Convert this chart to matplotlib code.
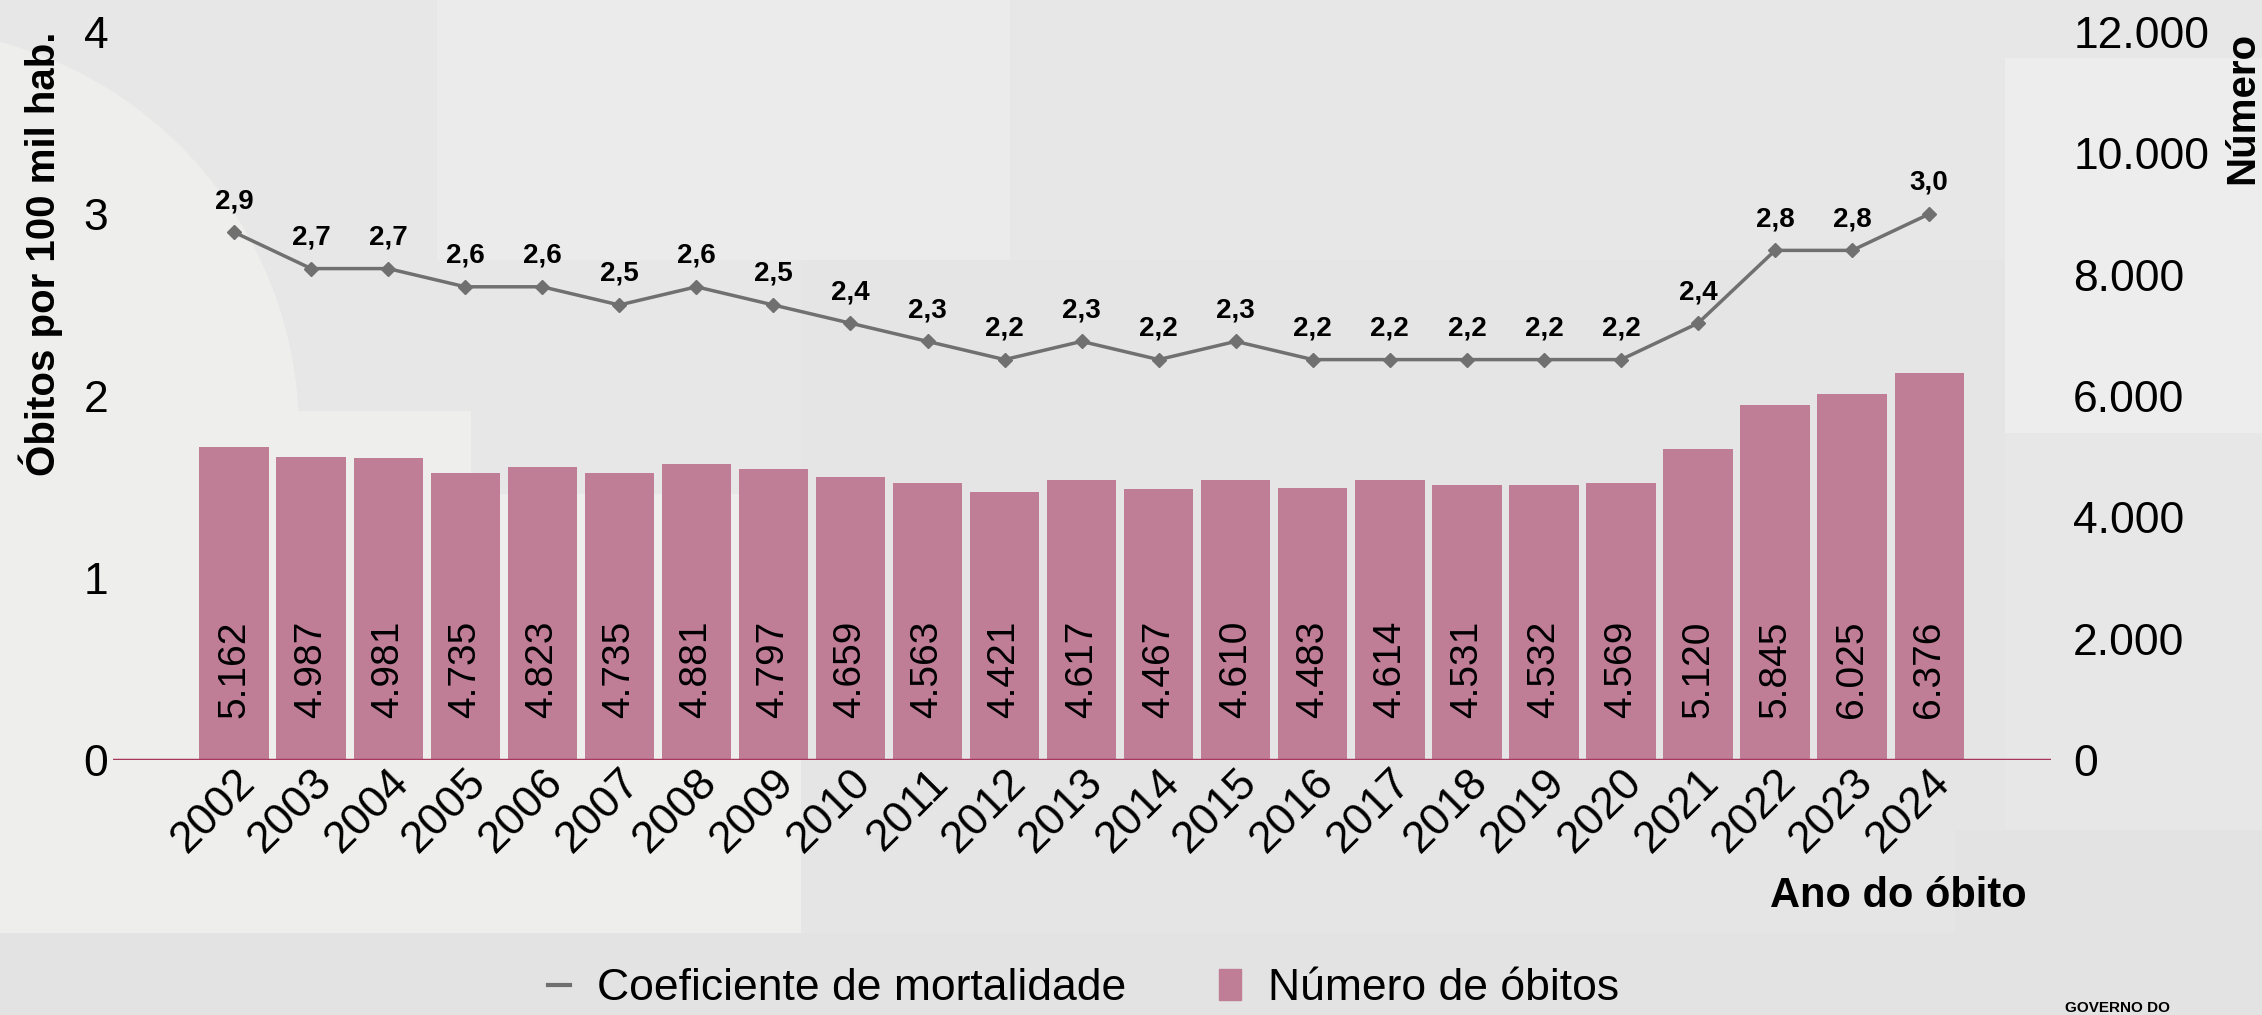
import matplotlib.pyplot as plt
import matplotlib.patches as mpatches
from matplotlib.lines import Line2D
from matplotlib.ticker import FuncFormatter
import numpy as np

plt.rcParams["font.family"] = ["Liberation Sans", "DejaVu Sans"]

# Data
anos = [str(a) for a in range(2002, 2025)]
obitos = [5162, 4987, 4981, 4735, 4823, 4735, 4881, 4797, 4659, 4563, 4421, 4617,
          4467, 4610, 4483, 4614, 4531, 4532, 4569, 5120, 5845, 6025, 6376]
coeficiente = [2.9, 2.7, 2.7, 2.6, 2.6, 2.5, 2.6, 2.5, 2.4, 2.3, 2.2, 2.3,
               2.2, 2.3, 2.2, 2.2, 2.2, 2.2, 2.2, 2.4, 2.8, 2.8, 3.0]
left_ticks = [0, 1, 2, 3, 4]
right_ticks = [0, 2000, 4000, 6000, 8000, 10000, 12000]

bar_color = "#C07D96"
line_color = "#707070"
base_color = "#A8375E"
bg = "#E7E7E7"


def milhar(v, pos=None):
    return f"{int(v):,}".replace(",", ".")


fig = plt.figure(figsize=(22.62, 10.15), dpi=100, facecolor=bg)

# decorative background (pixel coordinates of the page)
bg_ax = fig.add_axes([0, 0, 1, 1], zorder=-10)
bg_ax.set_xlim(0, 2262)
bg_ax.set_ylim(1015, 0)
bg_ax.axis("off")
t = np.linspace(np.arctan2(42 - 432, 105), np.arctan2(411 - 432, 406), 60)
arc = np.column_stack([-105 + 404 * np.cos(t), 432 + 404 * np.sin(t)])
light_left = np.vstack([[[0, 0]], arc, [[471, 411], [471, 494], [801, 494],
                                        [801, 933], [0, 933]]])
bg_ax.add_patch(mpatches.Rectangle((0, 933), 2262, 82, facecolor="#E3E3E3", edgecolor="none"))
bg_ax.add_patch(mpatches.Rectangle((801, 260), 1204, 673, facecolor="#E5E5E5", edgecolor="none"))
bg_ax.add_patch(mpatches.Polygon(light_left, facecolor="#EEEEED", edgecolor="none"))
bg_ax.add_patch(mpatches.Rectangle((437, 0), 573, 260, facecolor="#EBEBEB", edgecolor="none"))
bg_ax.add_patch(mpatches.Rectangle((2005, 58), 257, 375, facecolor="#EDEDED", edgecolor="none"))
bg_ax.add_patch(mpatches.Rectangle((1955, 830), 307, 185, facecolor="#E3E3E3", edgecolor="none"))

ax = fig.add_axes([0.05, 0.2512, 0.8567, 0.7173])
ax2 = ax.twinx()
ax.set_zorder(ax2.get_zorder() + 1)
ax.patch.set_visible(False)
ax2.patch.set_visible(False)

x = np.arange(len(anos))

# bars on the right axis
ax2.bar(x, obitos, width=0.9, color=bar_color, zorder=2)
for xi, v in zip(x, obitos):
    ax2.annotate(milhar(v), xy=(xi, 0), xytext=(0, 30), textcoords="offset points",
                 rotation=90, ha="center", va="bottom", fontsize=28, color="black")
ax2.axhline(0, color=base_color, lw=2.5, zorder=3)
ax2.set_ylim(0, 12000)
ax2.set_yticks(right_ticks)
ax2.yaxis.set_major_formatter(FuncFormatter(milhar))
ax2.set_ylabel("Número", fontsize=29, fontweight="bold", loc="top", labelpad=10)

# line on the left axis
ax.plot(x, coeficiente, color=line_color, lw=2.5, marker="D", markersize=7, zorder=4)
for xi, v in zip(x, coeficiente):
    ax.annotate(f"{v:.1f}".replace(".", ","), xy=(xi, v), xytext=(0, 13),
                textcoords="offset points", ha="center", va="bottom",
                fontsize=20, fontweight="bold")
ax.set_ylim(0, 4)
ax.set_yticks(left_ticks)
ax.set_xlim(-1.57, len(anos) - 1 + 1.58)
ax.set_xticks(x)
ax.set_xticklabels(anos, rotation=45, ha="right", va="top", rotation_mode="anchor")
ax.set_ylabel("Óbitos por 100 mil hab.", fontsize=29, fontweight="bold", loc="top", labelpad=15)

for a in (ax, ax2):
    for s in a.spines.values():
        s.set_visible(False)
    a.tick_params(length=0, labelsize=32)
ax.tick_params(axis="x", pad=1)
ax2.tick_params(axis="y", pad=16)

fig.text(2027 / 2262, 1 - 907 / 1015, "Ano do óbito", ha="right", va="baseline",
         fontsize=30, fontweight="bold")

handles = [Line2D([0], [0], color=line_color, lw=3),
           mpatches.Patch(color=bar_color)]
fig.legend(handles, ["Coeficiente de mortalidade", "Número de óbitos"],
           loc="center", bbox_to_anchor=(0.479, 0.026), ncol=2, frameon=False,
           fontsize=32, handlelength=0.5, handleheight=0.7, handletextpad=0.6,
           columnspacing=2.1, borderpad=0.1)

fig.text(2065 / 2262, 0.0, "GOVERNO DO", ha="left", va="bottom",
         fontsize=11, fontweight="bold")

plt.savefig("out.png", dpi=100, facecolor=bg)
plt.close()
